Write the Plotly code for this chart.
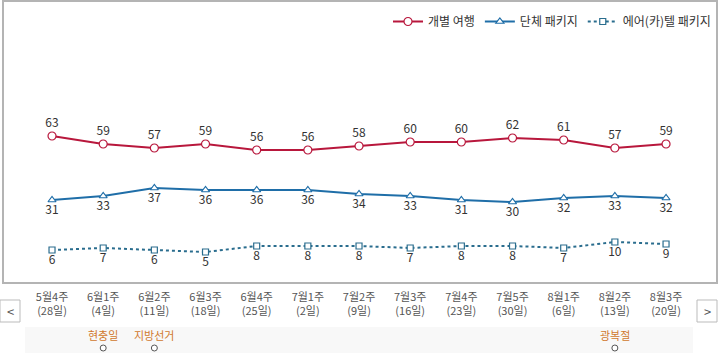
import plotly.graph_objects as go

weeks = ["5월4주", "6월1주", "6월2주", "6월3주", "6월4주", "7월1주", "7월2주",
         "7월3주", "7월4주", "7월5주", "8월1주", "8월2주", "8월3주"]
days = ["(28일)", "(4일)", "(11일)", "(18일)", "(25일)", "(2일)", "(9일)",
        "(16일)", "(23일)", "(30일)", "(6일)", "(13일)", "(20일)"]
individual = [63, 59, 57, 59, 56, 56, 58, 60, 60, 62, 61, 57, 59]
group_pkg = [31, 33, 37, 36, 36, 36, 34, 33, 31, 30, 32, 33, 32]
aircartel = [6, 7, 6, 5, 8, 8, 8, 7, 8, 8, 7, 10, 9]
event_idx = [1, 2, 11]
event_names = ["현충일", "지방선거", "광복절"]

FONT = "Noto Sans CJK KR"
RED = "#b8173c"
BLUE = "#1f6ea8"
TEAL = "#2a6d8e"

xs = list(range(len(weeks)))
fig = go.Figure()
fig.add_trace(go.Scatter(
    x=xs, y=individual, name="개별 여행", mode="lines+markers+text",
    text=[str(v) for v in individual], textposition="top center",
    textfont=dict(size=12, color="#333", family=FONT),
    line=dict(color=RED, width=2),
    marker=dict(symbol="circle", size=8, color="white", line=dict(color=RED, width=1.2)),
))
fig.add_trace(go.Scatter(
    x=xs, y=group_pkg, name="단체 패키지", mode="lines+markers+text",
    text=[str(v) for v in group_pkg], textposition="bottom center",
    textfont=dict(size=12, color="#333", family=FONT),
    line=dict(color=BLUE, width=2),
    marker=dict(symbol="triangle-up", size=7, color="white", line=dict(color=BLUE, width=1.2)),
))
fig.add_trace(go.Scatter(
    x=xs, y=aircartel, name="에어(카)텔 패키지", mode="lines+markers+text",
    text=[str(v) for v in aircartel], textposition="bottom center",
    textfont=dict(size=12, color="#333", family=FONT),
    line=dict(color=TEAL, width=2, dash="dot"),
    marker=dict(symbol="square", size=6, color="white", line=dict(color=TEAL, width=1.2)),
))

W, H = 720, 363
L, R, T, B = 3, 3, 1, 80

def px2x(px):
    return (px - L) / (W - L - R)

def py2y(py):
    return 1 - (py - T) / (H - T - B)

shapes = []
annotations = []
# panel border
shapes.append(dict(type="rect", xref="paper", yref="paper", x0=0, x1=1, y0=0, y1=1,
                   line=dict(color="#b4b4b4", width=2), layer="above"))
# nav buttons
for x0, x1, ch in [(0, 20, "<"), (697, 717, ">")]:
    shapes.append(dict(type="rect", xref="paper", yref="paper",
                       x0=px2x(x0), x1=px2x(x1), y0=py2y(322), y1=py2y(300),
                       line=dict(color="#bbbbbb", width=1), fillcolor="white"))
    annotations.append(dict(xref="paper", yref="paper", x=px2x((x0 + x1) / 2), y=py2y(311),
                            xanchor="center", yanchor="middle",
                            text=ch, showarrow=False, font=dict(size=13, color="#555", family=FONT)))
# event band
shapes.append(dict(type="rect", xref="paper", yref="paper",
                   x0=px2x(25), x1=px2x(693), y0=py2y(353), y1=py2y(327),
                   line=dict(width=0), fillcolor="#f8f8f8", layer="below"))
for i, name in zip(event_idx, event_names):
    annotations.append(dict(xref="x", yref="paper", x=i, y=py2y(335), text=name,
                            xanchor="center", yanchor="middle",
                            showarrow=False, font=dict(size=11, color="#d0782e", family=FONT)))
    shapes.append(dict(type="circle", xref="x", yref="paper",
                       x0=i - 3 / 51.17, x1=i + 3 / 51.17, y0=py2y(351), y1=py2y(345),
                       line=dict(color="#555", width=1), fillcolor="white"))

fig.update_layout(
    width=W, height=H,
    margin=dict(l=L, r=R, t=T, b=B, pad=0),
    paper_bgcolor="white", plot_bgcolor="white",
    font=dict(family=FONT, color="#333"),
    showlegend=True,
    legend=dict(orientation="h", x=px2x(716), xanchor="right", y=py2y(7), yanchor="top",
                font=dict(size=12, color="#333", family=FONT), bgcolor="rgba(0,0,0,0)",
                itemwidth=30, tracegroupgap=0),
    xaxis=dict(range=[-0.958, 12.996], tickvals=xs,
               ticktext=[f"{w}<br>{d}" for w, d in zip(weeks, days)],
               tickfont=dict(size=11, color="#555", family=FONT),
               showgrid=False, zeroline=False, showline=False, ticks="",
               ticklabelstandoff=6),
    yaxis=dict(range=[-10.5, 130.5], visible=False, showgrid=False, zeroline=False),
    shapes=shapes, annotations=annotations,
)
fig.write_html("out.html", config={"displayModeBar": False},
               post_script="document.body.style.margin='0';document.body.style.overflow='hidden';")
